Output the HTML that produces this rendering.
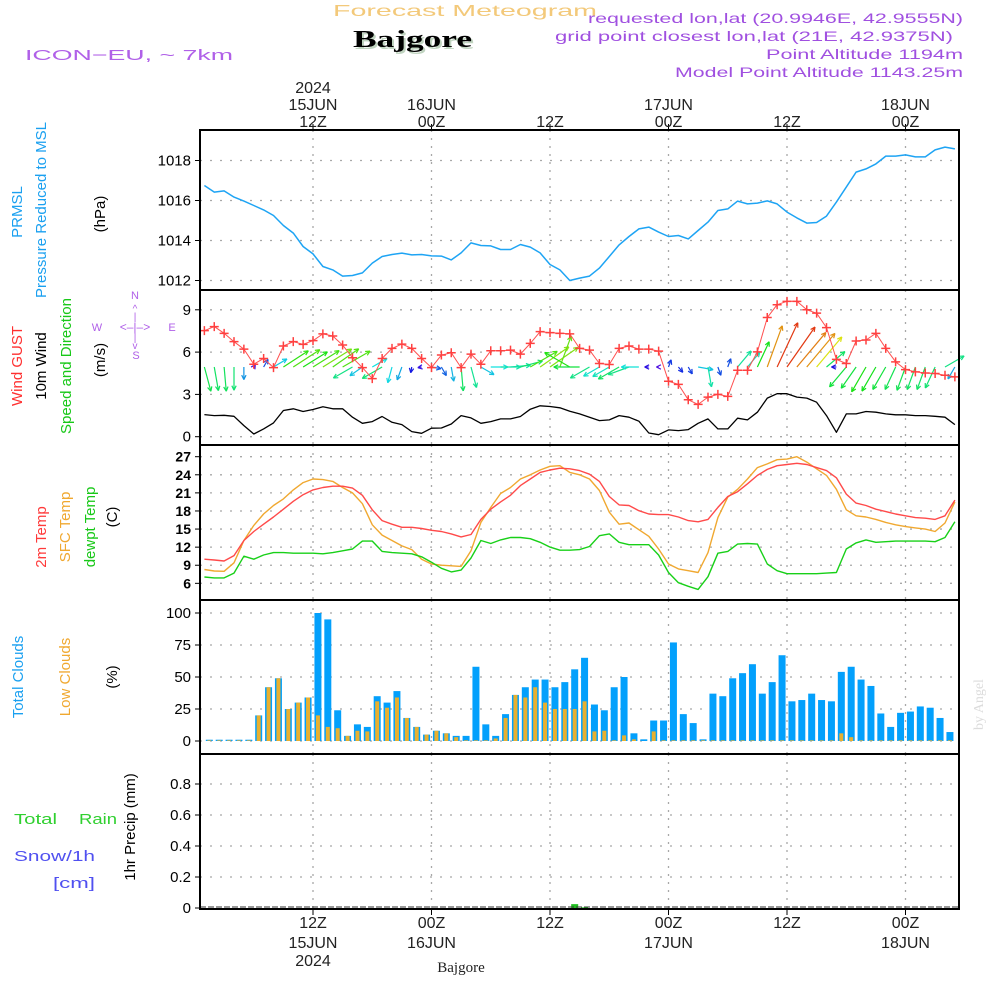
<!DOCTYPE html>
<html><head><meta charset="utf-8"><title>Forecast Meteogram - Bajgore</title>
<style>
html,body{margin:0;padding:0;background:#fff;width:1000px;height:1000px;overflow:hidden}
svg{display:block}
text{font-family:"Liberation Sans",sans-serif}
text.serif{font-family:"Liberation Serif",serif}
</style></head>
<body>
<svg id="chart" xmlns="http://www.w3.org/2000/svg" width="1000" height="1000" viewBox="0 0 1000 1000">
  <g>
    <text x="333" y="16" font-size="16" fill="#f3c97a" textLength="264" lengthAdjust="spacingAndGlyphs">Forecast Meteogram</text>
    <text class="serif" x="355" y="49" font-size="24" font-weight="bold" fill="#c0d4c0" textLength="119" lengthAdjust="spacingAndGlyphs">Bajgore</text>
    <text class="serif" x="353" y="47" font-size="24" font-weight="bold" fill="#000" textLength="119" lengthAdjust="spacingAndGlyphs">Bajgore</text>
    <text x="25" y="60" font-size="15" fill="#b060e8" textLength="208" lengthAdjust="spacingAndGlyphs">ICON−EU, ~ 7km</text>
    <text x="588" y="23" font-size="14" fill="#a050e0" textLength="375" lengthAdjust="spacingAndGlyphs">requested lon,lat (20.9946E, 42.9555N)</text>
    <text x="555" y="41" font-size="14" fill="#a050e0" textLength="398" lengthAdjust="spacingAndGlyphs">grid point closest lon,lat (21E, 42.9375N)</text>
    <text x="766" y="59" font-size="14" fill="#a050e0" textLength="197" lengthAdjust="spacingAndGlyphs">Point Altitude 1194m</text>
    <text x="675" y="77" font-size="14" fill="#a050e0" textLength="288" lengthAdjust="spacingAndGlyphs">Model Point Altitude 1143.25m</text>
  </g>
  <g font-size="15">
    <text transform="translate(22,212) rotate(-90)" text-anchor="middle" fill="#1aa0f0">PRMSL</text>
    <text transform="translate(46,210) rotate(-90)" text-anchor="middle" fill="#1aa0f0">Pressure Reduced to MSL</text>
    <text transform="translate(105,214) rotate(-90)" text-anchor="middle" fill="#000">(hPa)</text>
    <text transform="translate(22,366) rotate(-90)" text-anchor="middle"><tspan fill="#ff3030">Wind GUST</tspan></text>
    <text transform="translate(46,366) rotate(-90)" text-anchor="middle" fill="#000">10m Wind</text>
    <text transform="translate(71,366) rotate(-90)" text-anchor="middle" fill="#18c818">Speed and Direction</text>
    <text transform="translate(105,360) rotate(-90)" text-anchor="middle" fill="#000">(m/s)</text>
    <g fill="#b060e8" stroke="none" font-size="11">
      <text x="135" y="299" text-anchor="middle">N</text>
      <text x="97" y="331" text-anchor="middle">W</text>
      <text x="172" y="331" text-anchor="middle">E</text>
      <text x="136" y="359" text-anchor="middle">S</text>
      <text x="135" y="331" text-anchor="middle" font-size="12">&lt;–|–&gt;</text>
      <text x="135" y="312" text-anchor="middle" font-size="10">^</text>
      <text x="135" y="320" text-anchor="middle" font-size="10">|</text>
      <text x="135" y="341" text-anchor="middle" font-size="10">|</text>
      <text x="135" y="349" text-anchor="middle" font-size="10">v</text>
    </g>
    <text transform="translate(46,537) rotate(-90)" text-anchor="middle" fill="#ff3a3a">2m Temp</text>
    <text transform="translate(70,527) rotate(-90)" text-anchor="middle" fill="#f0a830">SFC Temp</text>
    <text transform="translate(95,527) rotate(-90)" text-anchor="middle" fill="#18c818">dewpt Temp</text>
    <text transform="translate(117,517) rotate(-90)" text-anchor="middle" fill="#000">(C)</text>
    <text transform="translate(23,677) rotate(-90)" text-anchor="middle" fill="#1aa0f0">Total Clouds</text>
    <text transform="translate(70,677) rotate(-90)" text-anchor="middle" fill="#f0a830">Low Clouds</text>
    <text transform="translate(117,677) rotate(-90)" text-anchor="middle" fill="#000">(%)</text>
    <text transform="translate(135,827) rotate(-90)" text-anchor="middle" fill="#000">1hr Precip (mm)</text>
    <text x="14" y="824" fill="#30d030" textLength="43" lengthAdjust="spacingAndGlyphs">Total</text>
    <text x="79" y="824" fill="#30d030" textLength="38" lengthAdjust="spacingAndGlyphs">Rain</text>
    <text x="14" y="861" fill="#5050f0" textLength="81" lengthAdjust="spacingAndGlyphs">Snow/1h</text>
    <text x="53" y="888" fill="#5050f0" textLength="42" lengthAdjust="spacingAndGlyphs">[cm]</text>
  </g>
  <text class="serif" transform="translate(983,730) rotate(-90)" font-size="14" fill="#dcdcdc">by Angel</text>
  <text class="serif" x="461" y="972" text-anchor="middle" font-size="15" fill="#222">Bajgore</text>
  <g id="plot"></g>
</svg>
<script>
// ---- data (hourly, from 01Z 15JUN 2024) ----
const timeTicksHours = [12, 24, 36, 48, 60, 72];
const timeTickHourLabels = ["12Z", "00Z", "12Z", "00Z", "12Z", "00Z"];
const timeTickDayLabels = ["15JUN", "16JUN", "", "17JUN", "", "18JUN"];
const timeTickYearLabels = ["2024", "", "", "", "", ""];
const firstHour = 1;

const pressure = [1016.75,1016.42,1016.48,1016.17,1015.97,1015.75,1015.53,1015.25,1014.75,1014.37,1013.7,1013.33,1012.7,1012.53,1012.22,1012.25,1012.38,1012.87,1013.2,1013.3,1013.37,1013.28,1013.3,1013.23,1013.22,1013.03,1013.38,1013.88,1013.75,1013.73,1013.55,1013.55,1013.8,1013.67,1013.38,1012.8,1012.53,1012.0,1012.12,1012.22,1012.62,1013.2,1013.78,1014.2,1014.58,1014.67,1014.42,1014.2,1014.25,1014.08,1014.5,1014.92,1015.5,1015.58,1015.97,1015.83,1015.87,1015.98,1015.83,1015.42,1015.13,1014.87,1014.9,1015.22,1015.92,1016.67,1017.42,1017.58,1017.83,1018.22,1018.22,1018.28,1018.18,1018.18,1018.53,1018.67,1018.58];
const pressureTicks = [1012, 1014, 1016, 1018];

const windSpeed = [1.57,1.5,1.52,1.45,0.79,0.19,0.55,0.98,1.86,1.98,1.79,1.93,2.12,1.98,1.98,1.38,0.95,1.07,1.43,1.02,0.86,0.36,0.24,0.6,0.62,0.9,1.5,1.33,0.95,1.07,1.26,1.26,1.43,1.95,2.19,2.14,2.05,1.81,1.62,1.38,1.14,1.19,1.5,1.38,1.1,0.26,0.14,0.48,0.43,0.5,0.95,1.26,0.55,0.55,1.31,1.19,1.74,2.74,3.05,3.05,2.81,2.74,2.45,1.5,0.31,1.62,1.62,1.79,1.74,1.62,1.55,1.55,1.5,1.5,1.45,1.38,0.86];
const windGust = [7.52,7.81,7.33,6.74,6.21,5.14,5.55,4.9,6.43,6.74,6.55,6.81,7.29,7.14,6.5,5.6,4.9,4.12,5.55,6.26,6.57,6.26,5.55,4.9,5.79,5.95,4.9,5.86,5.14,6.1,6.1,6.14,5.86,6.62,7.45,7.38,7.33,7.29,6.26,6.14,5.19,5.12,6.26,6.43,6.21,6.21,6.07,3.93,3.71,2.62,2.29,2.81,3.0,2.86,4.71,4.71,6.02,8.45,9.36,9.6,9.6,9.0,8.76,7.74,5.48,5.19,6.79,6.86,7.33,6.26,5.31,4.76,4.6,4.52,4.48,4.36,4.24];
const windDirTo = [165,170,175,180,180,30,30,59,57,57,58,58,58,55,60,240,235,60,240,195,200,190,260,100,150,170,175,165,120,90,90,85,75,60,55,55,20,300,270,240,240,240,240,250,270,270,270,20,140,150,100,170,160,20,40,40,25,20,25,35,40,40,40,50,270,220,215,210,210,210,205,200,200,200,205,60,210];
const windTicks = [0, 3, 6, 9];

const temp2m = [10.0,9.87,9.7,10.6,13.1,14.6,15.8,17.0,18.3,19.6,20.7,21.5,21.9,22.1,22.1,21.8,20.6,18.2,16.4,15.8,15.3,15.3,15.1,14.8,14.6,14.2,13.7,14.1,16.6,18.3,19.5,20.6,22.2,23.3,24.4,24.8,25.1,25.0,24.7,24.1,22.9,20.4,19.0,18.9,18.05,17.5,17.4,17.4,17.0,16.4,16.2,16.6,18.6,20.4,21.2,22.5,23.9,24.9,25.5,25.7,25.9,25.7,25.2,24.7,23.5,20.8,19.3,18.9,18.3,17.9,17.5,17.2,16.9,16.8,16.6,17.2,19.8];
const tempSfc = [8.3,8.05,8.0,9.4,13.1,15.6,17.5,18.9,20.0,21.5,22.7,23.3,23.2,22.9,21.9,21.0,19.2,15.7,14.0,13.1,12.2,11.6,10.0,9.2,9.0,8.9,8.8,11.4,16.1,18.6,20.9,21.9,23.3,24.0,24.8,25.4,25.5,24.4,24.0,23.3,21.4,17.8,15.8,16.0,14.9,13.8,11.7,9.2,8.4,8.1,7.8,11.1,16.9,20.3,21.6,23.3,25.2,25.8,26.5,26.6,27.0,26.1,25.0,23.9,21.6,18.2,17.2,17.0,16.6,16.1,15.7,15.4,15.2,15.0,14.6,16.0,19.5];
const tempDew = [7.05,6.9,6.9,7.7,10.5,10.0,10.7,11.1,11.1,11.0,11.0,11.0,10.9,11.1,11.4,11.7,13.0,13.0,11.3,11.1,11.0,10.9,10.4,9.5,8.5,7.9,8.2,10.2,13.1,12.6,13.2,13.6,13.6,13.4,12.8,12.0,11.5,11.5,11.6,12.1,13.9,14.2,12.8,12.4,12.4,12.4,10.7,7.8,6.1,5.5,5.0,7.1,11.0,11.3,12.5,12.6,12.5,9.2,8.1,7.6,7.6,7.6,7.6,7.7,7.8,11.7,12.7,13.2,12.8,12.9,13.0,13.0,13.0,13.0,12.9,13.6,16.2];
const tempTicks = [6, 9, 12, 15, 18, 21, 24, 27];

const totalCloud = [1,1,1,1,1,20,42,49,25,30,34,100,95,24,4,13,11,35,30,39,18,11,5,8,6,4,4,58,13,4,21,36,42,48,48,42,46,56,65,28.5,24,42,50,6,1.3,16,16,77,21,14,1.3,37,35,49,53,60,37,46,67,31,32,37,32,31,54,58,48,43,21.5,11,22,23,27,26,18,7];
const lowCloud = [0.5,0.5,0.5,0.5,0.5,20,42,49,25,30,34,20,11,10,4,8,7.5,31,26,34,18,11,5,8,6,3,0.5,0.5,0.5,2,18,36,34,42,30,25,25,25,31,7.5,8,0.5,4.4,1.3,0,7.5,0.5,0.5,0.5,0.5,0.5,0.5,0.5,0.5,0.5,0.5,0.5,0.5,0.5,0.5,0.5,0.5,0.5,0.5,6,3,0.5,0.5,0.5,0.5,0.5,0.5,0.5,0.5,0.5,0.5];
const cloudTicks = [0, 25, 50, 75, 100];

const precip = [0,0,0,0,0,0,0,0,0,0,0,0,0,0,0,0,0,0,0,0,0,0,0,0,0,0,0,0,0,0,0,0,0,0,0,0,0,0.025,0.004,0,0,0,0,0,0,0,0,0,0,0,0,0,0,0,0,0,0,0,0,0,0,0,0,0,0,0,0,0,0,0,0,0,0,0,0,0];
const precipTicks = [0, 0.2, 0.4, 0.6, 0.8];
const precipTickLabels = ["0", "0.2", "0.4", "0.6", "0.8"];

// ---- axes ----
const X0 = 200, X1 = 959;
const xHour = h => 313 + (h - 12) * 9.875;
const xIdx = i => xHour(firstHour + i);
const yP = p => 160.5 + (1018 - p) * 20;
const yW = v => 436.7 - v * 14.1;
const yT = t => 456.7 + (27 - t) * 6.03;
const yC = c => 741 - c * 1.28;
const yR = r => 908 - r * 155;
const panels = [
  {name:'pressure', top:130, bottom:290},
  {name:'wind', top:290, bottom:445},
  {name:'temperature', top:445, bottom:600},
  {name:'clouds', top:600, bottom:754},
  {name:'precip', top:754, bottom:909}
];

const NS = 'http://www.w3.org/2000/svg';
const plot = document.getElementById('plot');
function mk(tag, attrs, parent) {
  const el = document.createElementNS(NS, tag);
  for (const k in attrs) el.setAttribute(k, attrs[k]);
  (parent || plot).appendChild(el);
  return el;
}
function group(name, parent) {
  const g = mk('g', {}, parent);
  
  
  return g;
}
const clipDefs = mk('defs', {});
const cp = mk('clipPath', {id: 'plotclip'}, clipDefs);
mk('rect', {x: X0, y: 130, width: X1 - X0, height: 779}, cp);

// grid
const grid = group('grid-lines');
panels.forEach(p => {
  timeTicksHours.forEach(h => {
    const ln = mk('line', {x1: xHour(h), x2: xHour(h), y1: p.top, y2: p.bottom, stroke: '#a8a8a8', 'stroke-width': 1.3, 'stroke-dasharray': '2,6'}, grid);
    
    
  });
});
function hgrid(vals, yf, name) {
  vals.forEach(v => {
    const ln = mk('line', {x1: X0, x2: X1, y1: yf(v), y2: yf(v), stroke: '#a8a8a8', 'stroke-width': 1.3, 'stroke-dasharray': '2,8'}, grid);
    
    
  });
}
hgrid(pressureTicks, yP, 'pressure-grid-line');
hgrid(windTicks, yW, 'wind-grid-line');
hgrid(tempTicks, yT, 'temp-grid-line');
hgrid(cloudTicks, yC, 'cloud-grid-line');
hgrid(precipTicks.slice(1), yR, 'precip-grid-line');

// y ticks
function yAxis(vals, labels, yf, name, bold) {
  const g = group(name);
  vals.forEach((v, k) => {
    mk('line', {x1: 195, x2: 200, y1: yf(v), y2: yf(v), stroke: '#000', 'stroke-width': 1}, g);
    const t = mk('text', {x: 191, y: yf(v) + 5, 'text-anchor': 'end', 'font-size': bold ? 14 : 15, 'font-weight': bold ? 'bold' : 'normal', fill: '#000'}, g);
    
    
    t.textContent = labels[k];
  });
}
yAxis(pressureTicks, pressureTicks.map(String), yP, 'pressure-y-axis');
yAxis(windTicks, windTicks.map(String), yW, 'wind-y-axis');
yAxis(tempTicks, tempTicks.map(String), yT, 'temp-y-axis', true);
yAxis(cloudTicks, cloudTicks.map(String), yC, 'cloud-y-axis');
yAxis(precipTicks, precipTickLabels, yR, 'precip-y-axis');

// x tick labels top & bottom
const xAxisTop = group('x-axis-top');
const xAxisBottom = group('x-axis-bottom');
timeTicksHours.forEach((h, k) => {
  const x = xHour(h);
  mk('line', {x1: x, x2: x, y1: 124, y2: 130, stroke: '#000'}, xAxisTop);
  mk('line', {x1: x, x2: x, y1: 909, y2: 915, stroke: '#000'}, xAxisBottom);
  const rows = [[timeTickYearLabels[k], 93], [timeTickDayLabels[k], 110], [timeTickHourLabels[k], 127]];
  rows.forEach(r => {
    if (!r[0]) return;
    const t = mk('text', {x: x, y: r[1], 'text-anchor': 'middle', 'font-size': 16, fill: '#222'}, xAxisTop);
    
    
    t.textContent = r[0];
  });
  const rowsB = [[timeTickHourLabels[k], 928], [timeTickDayLabels[k], 948], [timeTickYearLabels[k], 966]];
  rowsB.forEach(r => {
    if (!r[0]) return;
    const t = mk('text', {x: x, y: r[1], 'text-anchor': 'middle', 'font-size': 16, fill: '#222'}, xAxisBottom);
    
    
    t.textContent = r[0];
  });
});

function lineSeries(vals, yf, color, name, width) {
  const pts = vals.map((v, i) => xIdx(i).toFixed(1) + ',' + yf(v).toFixed(1)).join(' ');
  const pl = mk('polyline', {points: pts, fill: 'none', stroke: color, 'stroke-width': width || 1.4, 'stroke-linejoin': 'round', 'clip-path': 'url(#plotclip)'});
  
  
  return pl;
}

// pressure
lineSeries(pressure, yP, '#1ea4f4', 'pressure-line', 1.5);

// wind mean speed
lineSeries(windSpeed, yW, '#000', 'wind-speed-line', 1.3);

// wind arrows
const arrows = group('wind-arrows');
const baseY = 367;
windDirTo.forEach((d, i) => {
  const L = windSpeed[i] * 16;
  const a = d * Math.PI / 180;
  const x1 = xIdx(i), y1 = baseY;
  const x2 = x1 + L * Math.sin(a), y2 = y1 - L * Math.cos(a);
  const hue = ((270 - windSpeed[i] * 85) % 360 + 360) % 360;
  const col = 'hsl(' + hue.toFixed(0) + ',85%,48%)';
  const g = mk('g', {stroke: col, 'stroke-width': 1.2, fill: 'none'}, arrows);
  
  
  mk('line', {x1: x1, y1: y1, x2: x2, y2: y2}, g);
  const back = a + Math.PI;
  [0.45, -0.45].forEach(o => {
    const hx = x2 + 5 * Math.sin(back + o), hy = y2 - 5 * Math.cos(back + o);
    mk('line', {x1: x2, y1: y2, x2: hx, y2: hy}, g);
  });
});

// gust
lineSeries(windGust, yW, '#ff5050', 'wind-gust-line', 1);
const gustMarks = group('wind-gust-markers');
windGust.forEach((v, i) => {
  const x = xIdx(i), y = yW(v);
  const p = mk('path', {d: `M${x - 4.5},${y}H${x + 4.5}M${x},${y - 4.5}V${y + 4.5}`, stroke: '#ff4040', 'stroke-width': 1.5}, gustMarks);
  
  
});

// temperatures
lineSeries(tempSfc, yT, '#f0a830', 'sfc-temp-line', 1.4);
lineSeries(temp2m, yT, '#ff4a4a', 'temp-2m-line', 1.4);
lineSeries(tempDew, yT, '#18d018', 'dewpoint-line', 1.4);

// clouds
const clouds = group('cloud-bars');
clouds.setAttribute('clip-path', 'url(#plotclip)');
totalCloud.forEach((v, i) => {
  const xc = xHour(firstHour + i + 0.5);
  const b = mk('rect', {x: xc - 3.5, y: yC(v), width: 7, height: yC(0) - yC(v), fill: '#03a0fc'}, clouds);
  
  
  const lv = lowCloud[i];
  const o = mk('rect', {x: xc - 2, y: yC(lv), width: 4, height: yC(0) - yC(lv), fill: '#e8b030'}, clouds);
  
  
});

// precip
const pr = group('precip-bars');
precip.forEach((v, i) => {
  if (v <= 0) return;
  const xc = xHour(firstHour + i + 0.5);
  const b = mk('rect', {x: xc - 3.5, y: yR(v), width: 7, height: yR(0) - yR(v), fill: '#20c020'}, pr);
  
  
});
mk('line', {x1: X0, x2: X1, y1: 907, y2: 907, stroke: '#333', 'stroke-width': 1, 'stroke-dasharray': '6,2'}, pr);

// frames
const frames = group('panel-frames');
panels.forEach(p => {
  const r = mk('rect', {x: X0, y: p.top, width: X1 - X0, height: p.bottom - p.top, fill: 'none', stroke: '#000', 'stroke-width': 2}, frames);
  
  
});
</script>
</body></html>
